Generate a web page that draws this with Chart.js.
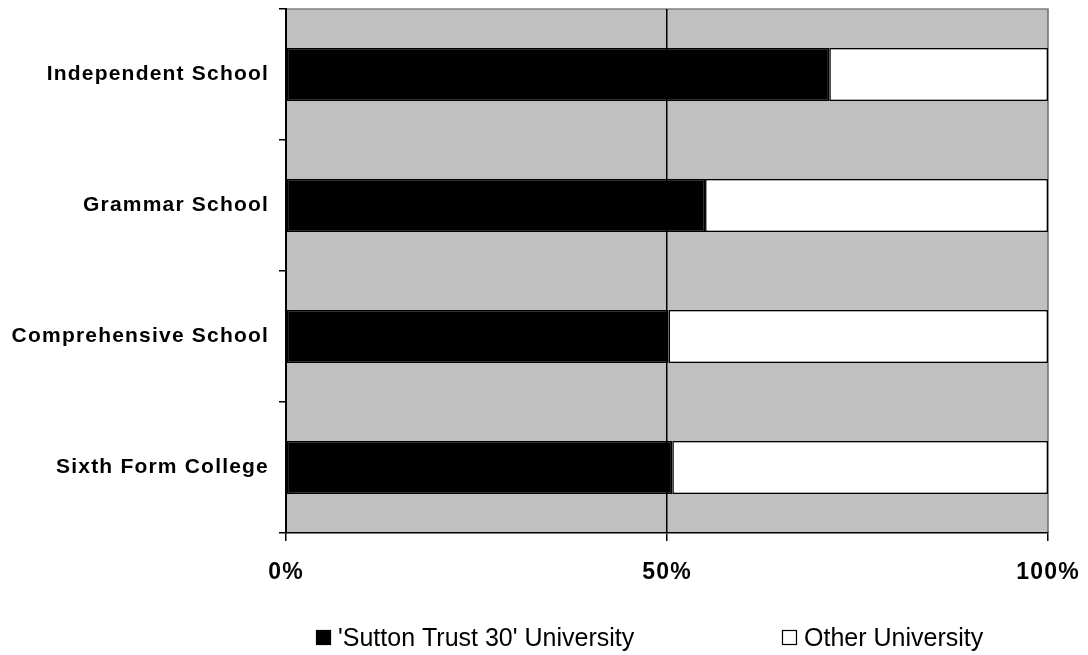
<!DOCTYPE html>
<html>
<head>
<meta charset="utf-8">
<script src="https://cdn.jsdelivr.net/npm/chart.js@4.4.1/dist/chart.umd.min.js"></script>
<style>
  html, body { margin: 0; padding: 0; background: #fff; }
  #wrap { width: 1088px; height: 655px; }
</style>
</head>
<body>
<div id="wrap"><canvas id="schoolChart"></canvas></div>
<script>
var categories = ['Independent School', 'Grammar School', 'Comprehensive School', 'Sixth Form College'];
var suttonTrust = [71.3, 55.0, 50.2, 50.7];
var otherUni = [28.7, 45.0, 49.8, 49.3];
var tickValues = [0, 50, 100];
var seriesNames = ["'Sutton Trust 30' University", 'Other University'];

// grey plot area with grey top / right edges
const plotBackground = {
    id: 'plotBackground',
    beforeUpdate(chart) { chart.ctx.letterSpacing = '1.2px'; },
    beforeDraw(chart) {
        const ctx = chart.ctx;
        const a = chart.chartArea;
        ctx.letterSpacing = '1.2px';
        ctx.save();
        ctx.fillStyle = '#c0c0c0';
        ctx.fillRect(a.left, a.top, a.right - a.left, a.bottom - a.top);
        ctx.strokeStyle = '#808080';
        ctx.lineWidth = 1.5;
        ctx.beginPath();
        ctx.moveTo(a.left, a.top);
        ctx.lineTo(a.right, a.top);
        ctx.lineTo(a.right, a.bottom);
        ctx.stroke();
        ctx.restore();
    }
};

// Excel-like legend: two items with a wide gap
const wideLegend = {
    id: 'wideLegend',
    afterDraw(chart) {
        const ctx = chart.ctx;
        const xs = [316, 782];
        ctx.save();
        ctx.letterSpacing = '0px';
        ctx.font = '25px "Liberation Sans", Arial, sans-serif';
        ctx.textBaseline = 'alphabetic';
        chart.data.datasets.forEach(function (ds, i) {
            ctx.fillStyle = ds.backgroundColor;
            ctx.fillRect(xs[i], 630, 15, 15);
            ctx.strokeStyle = '#000';
            ctx.lineWidth = 1.2;
            ctx.strokeRect(xs[i] + 0.5, 630.5, 14, 14);
            ctx.fillStyle = '#000';
            ctx.fillText(ds.label, xs[i] + 22, 646);
        });
        ctx.restore();
    }
};

const ctx = document.getElementById('schoolChart').getContext('2d');
const schoolChart = new Chart(ctx, {
    type: 'bar',
    data: {
        labels: categories,
        datasets: [
            {
                label: seriesNames[0],
                data: suttonTrust,
                backgroundColor: '#000000',
                borderColor: '#000000',
                borderWidth: 1.5,
                borderSkipped: false,
                barPercentage: 0.405,
                categoryPercentage: 1.0
            },
            {
                label: seriesNames[1],
                data: otherUni,
                backgroundColor: '#ffffff',
                borderColor: '#000000',
                borderWidth: 1.5,
                borderSkipped: false,
                barPercentage: 0.405,
                categoryPercentage: 1.0
            }
        ]
    },
    options: {
        indexAxis: 'y',
        responsive: true,
        maintainAspectRatio: false,
        animation: false,
        layout: {
            padding: { top: 9, right: 40, bottom: 0, left: 0 }
        },
        plugins: {
            legend: { display: false },
            title: { display: false },
            tooltip: { enabled: false }
        },
        scales: {
            x: {
                stacked: true,
                min: 0,
                max: 100,
                afterBuildTicks: function (scale) {
                    scale.ticks = tickValues.map(function (v) { return { value: v }; });
                },
                afterFit: function (scale) {
                    scale.height = 122;
                    scale.paddingLeft = 0;
                    scale.paddingRight = 0;
                },
                ticks: {
                    callback: function (v) { return v + '%'; },
                    color: '#000',
                    font: { family: '"Liberation Sans", Arial, sans-serif', size: 23, weight: 'bold' },
                    padding: 18,
                    maxRotation: 0
                },
                grid: {
                    drawOnChartArea: true,
                    color: function (c) {
                        if (c.tick && c.tick.value === 100) return '#808080';
                        if (c.tick && c.tick.value === 0) return 'rgba(0,0,0,0)';
                        return '#000000';
                    },
                    tickColor: '#000000',
                    tickLength: 8,
                    lineWidth: 1.5
                },
                border: { display: true, color: '#000000', width: 1.5 }
            },
            y: {
                stacked: true,
                afterFit: function (scale) {
                    scale.width = 286;
                    scale.paddingTop = 0;
                    scale.paddingBottom = 0;
                },
                ticks: {
                    color: '#000',
                    font: { family: '"Liberation Sans", Arial, sans-serif', size: 21, weight: 'bold' },
                    padding: 10
                },
                grid: {
                    offset: true,
                    drawOnChartArea: false,
                    color: '#000000',
                    tickLength: 7,
                    lineWidth: 1.5
                },
                border: { display: true, color: '#000000', width: 2 }
            }
        }
    },
    plugins: [plotBackground, wideLegend]
});
</script>
</body>
</html>
